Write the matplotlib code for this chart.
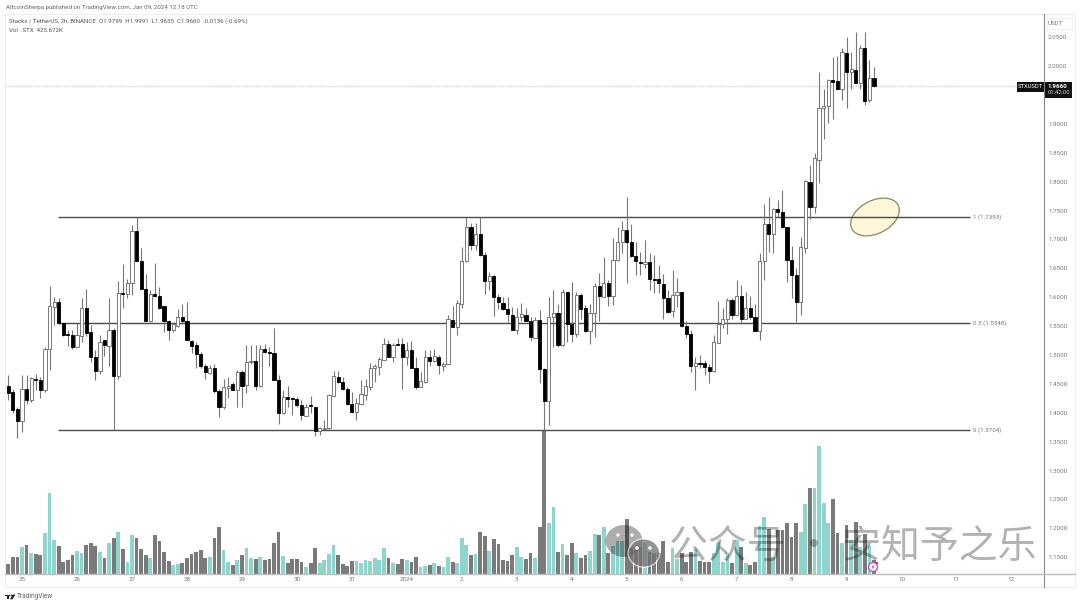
import matplotlib
matplotlib.use("Agg")
import matplotlib.pyplot as plt
from matplotlib.patches import Ellipse, Rectangle, Circle, Polygon

plt.rcParams['font.family'] = ['Roboto', 'DejaVu Sans']

# 2h candles, STX/USDT
opens = [
    1.447,1.436,1.406,1.386,1.442,1.423,1.459,1.456,1.440,1.510,
    1.583,1.591,1.555,1.537,1.535,1.514,1.533,1.582,1.539,1.496,
    1.472,1.526,1.516,1.543,1.463,1.608,1.606,1.625,1.714,1.663,
    1.614,1.558,1.605,1.602,1.584,1.559,1.544,1.550,1.566,1.559,
    1.524,1.517,1.502,1.481,1.469,1.477,1.437,1.410,1.443,1.449,
    1.439,1.471,1.448,1.488,1.489,1.446,1.510,1.505,1.504,1.456,
    1.399,1.428,1.425,1.424,1.413,1.395,1.414,1.410,1.369,1.372,
    1.373,1.429,1.462,1.454,1.442,1.415,1.402,1.415,1.430,1.445,
    1.477,1.480,1.492,1.519,1.497,1.519,1.519,1.496,1.509,1.478,
    1.445,1.454,1.496,1.490,1.497,1.481,1.485,1.560,1.548,1.589,
    1.662,1.722,1.690,1.709,1.673,1.628,1.636,1.601,1.590,1.580,
    1.570,1.543,1.566,1.569,1.559,1.530,1.560,1.476,1.420,1.565,
    1.572,1.517,1.609,1.553,1.536,1.604,1.581,1.541,1.572,1.619,
    1.601,1.625,1.602,1.664,1.695,1.717,1.696,1.672,1.661,1.658,
    1.661,1.632,1.631,1.623,1.599,1.577,1.603,1.609,1.550,1.537,
    1.481,1.487,1.487,1.480,1.472,1.521,1.553,1.562,1.596,1.569,
    1.602,1.562,1.582,1.565,1.542,1.663,1.726,1.710,1.753,1.748,
    1.721,1.665,1.639,1.592,1.686,1.800,1.756,1.838,1.928,1.930,
    1.976,1.974,1.961,2.022,1.989,1.993,1.970,2.031,1.941,1.979,
]
closes = [
    1.435,1.404,1.386,1.442,1.422,1.460,1.456,1.440,1.511,1.585,
    1.591,1.555,1.535,1.535,1.514,1.534,1.582,1.538,1.496,1.472,
    1.523,1.518,1.543,1.463,1.608,1.606,1.625,1.715,1.662,1.614,
    1.558,1.606,1.602,1.582,1.559,1.543,1.553,1.566,1.559,1.526,
    1.516,1.501,1.481,1.470,1.478,1.437,1.410,1.444,1.447,1.439,
    1.471,1.447,1.488,1.489,1.446,1.511,1.505,1.504,1.456,1.399,
    1.428,1.424,1.424,1.413,1.396,1.410,1.411,1.369,1.373,1.373,
    1.430,1.463,1.454,1.441,1.415,1.402,1.417,1.432,1.446,1.478,
    1.481,1.493,1.519,1.497,1.518,1.518,1.496,1.508,1.478,1.445,
    1.455,1.497,1.490,1.498,1.482,1.485,1.562,1.548,1.590,1.662,
    1.722,1.690,1.710,1.673,1.628,1.636,1.600,1.591,1.580,1.571,
    1.544,1.566,1.571,1.559,1.532,1.560,1.476,1.420,1.565,1.573,
    1.517,1.609,1.553,1.536,1.603,1.580,1.541,1.573,1.620,1.602,
    1.625,1.602,1.664,1.695,1.716,1.696,1.672,1.662,1.660,1.661,
    1.631,1.630,1.624,1.599,1.575,1.603,1.609,1.550,1.536,1.481,
    1.487,1.485,1.479,1.472,1.523,1.553,1.563,1.595,1.569,1.602,
    1.563,1.582,1.565,1.542,1.663,1.726,1.710,1.753,1.748,1.721,
    1.664,1.639,1.592,1.687,1.801,1.756,1.840,1.928,1.931,1.976,
    1.972,1.960,2.024,1.990,1.994,1.971,2.031,1.940,1.979,1.966,
]
highs = [
    1.465,1.442,1.410,1.465,1.465,1.462,1.468,1.462,1.514,1.619,
    1.601,1.598,1.555,1.543,1.543,1.555,1.598,1.615,1.552,1.508,
    1.534,1.526,1.598,1.546,1.628,1.657,1.632,1.725,1.738,1.685,
    1.641,1.612,1.660,1.617,1.584,1.560,1.556,1.580,1.588,1.592,
    1.526,1.523,1.505,1.485,1.482,1.485,1.442,1.459,1.462,1.454,
    1.474,1.474,1.517,1.517,1.517,1.517,1.519,1.514,1.547,1.465,
    1.439,1.447,1.428,1.428,1.422,1.416,1.429,1.410,1.376,1.387,
    1.433,1.472,1.473,1.462,1.445,1.436,1.425,1.456,1.459,1.487,
    1.485,1.497,1.529,1.526,1.520,1.530,1.530,1.523,1.525,1.497,
    1.471,1.509,1.509,1.511,1.500,1.488,1.569,1.585,1.596,1.687,
    1.739,1.729,1.728,1.739,1.679,1.644,1.638,1.606,1.601,1.601,
    1.583,1.581,1.590,1.581,1.566,1.566,1.578,1.477,1.601,1.612,
    1.589,1.615,1.609,1.626,1.609,1.607,1.586,1.589,1.624,1.642,
    1.670,1.630,1.702,1.722,1.732,1.773,1.727,1.695,1.679,1.699,
    1.676,1.673,1.656,1.641,1.612,1.647,1.633,1.609,1.558,1.543,
    1.497,1.500,1.491,1.485,1.534,1.593,1.582,1.598,1.598,1.629,
    1.621,1.609,1.602,1.588,1.676,1.762,1.773,1.754,1.768,1.785,
    1.721,1.688,1.650,1.705,1.803,1.829,1.849,1.990,1.961,1.977,
    2.016,2.017,2.031,2.050,2.025,2.059,2.036,2.059,2.011,1.999,
]
lows = [
    1.422,1.399,1.357,1.367,1.416,1.419,1.439,1.425,1.436,1.474,
    1.552,1.553,1.533,1.516,1.511,1.513,1.523,1.533,1.488,1.456,
    1.467,1.498,1.481,1.370,1.459,1.582,1.598,1.604,1.662,1.614,
    1.558,1.557,1.601,1.580,1.540,1.526,1.540,1.548,1.553,1.526,
    1.503,1.477,1.477,1.459,1.468,1.435,1.392,1.407,1.425,1.439,
    1.410,1.410,1.434,1.485,1.440,1.445,1.504,1.481,1.456,1.380,
    1.398,1.410,1.396,1.410,1.387,1.395,1.400,1.360,1.361,1.370,
    1.372,1.428,1.452,1.440,1.413,1.399,1.387,1.413,1.422,1.439,
    1.454,1.465,1.491,1.496,1.488,1.517,1.442,1.482,1.477,1.442,
    1.444,1.451,1.481,1.488,1.468,1.473,1.484,1.548,1.534,1.582,
    1.661,1.681,1.681,1.671,1.606,1.612,1.568,1.580,1.578,1.557,
    1.543,1.536,1.559,1.558,1.525,1.529,1.452,1.370,1.379,1.514,
    1.513,1.515,1.523,1.523,1.532,1.563,1.540,1.519,1.532,1.558,
    1.600,1.585,1.586,1.663,1.676,1.624,1.670,1.638,1.638,1.650,
    1.612,1.607,1.607,1.562,1.572,1.565,1.583,1.549,1.529,1.471,
    1.440,1.477,1.465,1.452,1.470,1.520,1.546,1.536,1.562,1.567,
    1.553,1.562,1.563,1.541,1.526,1.630,1.679,1.676,1.739,1.719,
    1.627,1.598,1.557,1.569,1.677,1.735,1.745,1.797,1.873,1.901,
    1.909,1.958,1.941,1.927,1.961,1.970,1.961,1.933,1.937,1.964,
]
# volume in thousands of STX
volumes = [
    300,500,500,810,870,640,610,560,1220,2420,
    1010,840,370,420,580,680,640,870,920,830,
    670,490,920,1070,1260,750,370,1160,1070,750,
    580,480,1180,980,660,380,270,310,320,470,
    590,650,720,470,500,1070,1410,720,350,260,
    430,580,770,470,440,500,430,460,940,1260,
    530,320,460,460,350,220,330,780,330,410,
    600,860,570,290,250,380,390,320,410,390,
    470,430,770,490,330,290,450,410,360,500,
    220,250,280,330,240,210,520,360,320,1090,
    870,570,610,1260,1150,680,1060,900,430,380,
    580,810,510,440,640,480,1420,4320,1530,2020,
    650,900,570,920,640,490,580,700,1210,1180,
    1410,640,850,1000,1000,1640,770,720,820,940,
    670,640,620,990,350,790,450,620,370,670,
    740,400,370,360,640,970,370,620,320,1020,
    820,320,270,360,1440,1700,1340,520,1320,1320,
    1540,1120,1520,1270,2100,2580,2580,3850,2140,1540,
    2260,1220,920,1470,1020,1550,820,1190,840,425.672,
]

day_labels = ['25','26','27','28','29','30','31','2024','2','3','4','5','6','7','8','9','10','11','12']
price_ticks = [1.15,1.20,1.25,1.30,1.35,1.40,1.45,1.50,1.55,1.60,1.65,1.70,1.75,1.80,1.85,1.90,2.00,2.05]
fib_levels = [1.7393, 1.5548, 1.3704]
fib_labels = ['1 (1.7393)', '0.5 (1.5548)', '0 (1.3704)']
last_price = 1.9660

GREY = '#7a7a7a'
TEAL = '#8ed5cd'
TXT = '#777777'

fig = plt.figure(figsize=(10.8, 6.06), dpi=100, facecolor='white')
W, H = 1080.0, 606.0
pos = [5/W, 1-574/H, (1044-5)/W, (574-14)/H]

# volume panel underneath the candles, same box
vol_ax = fig.add_axes(pos, zorder=1)
ax = fig.add_axes(pos, zorder=2)
ax.patch.set_visible(False)
# pixel overlay for the TradingView furniture and the watermark
ov = fig.add_axes([0, 0, 1, 1], zorder=3)
ov.set_xlim(0, W)
ov.set_ylim(H, 0)
ov.axis('off')

xs = list(range(len(opens)))
xlim = (-0.72, 226.1)

is_up = [c >= o for o, c in zip(opens, closes)]
vol_ax.bar(xs, volumes, width=0.82, linewidth=0, color=[TEAL if u else GREY for u in is_up])
vol_ax.set_xlim(xlim)
vol_ax.set_ylim(0, 16800)
vol_ax.axis('off')

ax.vlines(xs, lows, highs, color='#777777', linewidth=0.8, zorder=3)
bottoms = [min(o, c) for o, c in zip(opens, closes)]
heights = [abs(o - c) for o, c in zip(opens, closes)]
ax.bar(xs, heights, bottom=bottoms, width=0.7, zorder=4, linewidth=0.6,
       color=['white' if u else 'black' for u in is_up],
       edgecolor=['#666666' if u else 'black' for u in is_up])

ax.set_xlim(xlim)
ax.set_ylim(1.1211, 2.0900)

# range lines drawn with the fib tool
for level, label in zip(fib_levels, fib_labels):
    ax.hlines(level, 10.85, 210, color='#4a4a4a', linewidth=1.0, zorder=2)
    ax.text(210.6, level, label, fontsize=4.4, color=TXT, va='center', ha='left')

ax.axhline(last_price, color='#cfcfcf', linewidth=1.0, linestyle=(0, (1, 1)), zorder=1)

# the yellow circle, tilted
ax.add_patch(Ellipse((875, 217), 52, 33, angle=-27, facecolor='#fdf6d8', edgecolor='#8c8763',
                     linewidth=0.9, transform=ov.transData, zorder=1))

ax.set_xticks(list(range(3, 3 + 12 * len(day_labels), 12)))
ax.set_xticklabels(day_labels)
ax.set_yticks(price_ticks)
ax.set_yticklabels([f'{p:.4f}' for p in price_ticks])
ax.yaxis.tick_right()
ax.tick_params(axis='x', length=0, labelsize=4.5, labelcolor=TXT, pad=2.5)
ax.tick_params(axis='y', length=0, labelsize=4.5, labelcolor=TXT, pad=3)
for side in ax.spines:
    ax.spines[side].set_visible(False)

# chart frame
ov.add_patch(Rectangle((5, 14), 1070, 573, facecolor='none', edgecolor='#eeeeee', linewidth=0.8))
ov.plot([1044, 1044], [14, 587], color='#8a8a8a', linewidth=0.8)
ov.plot([5, 1075], [574, 574], color='#bdbdbd', linewidth=1.0)

# header
ov.text(6, 7.5, 'AltcoinSherpa published on TradingView.com, Jan 09, 2024 12:18 UTC',
        fontsize=4.4, color='#666666', va='center', ha='left')
ov.text(9, 21, 'Stacks / TetherUS, 2h, BINANCE  O1.9799  H1.9991  L1.9635  C1.9660  -0.0136 (-0.69%)',
        fontsize=4.4, color='#555555', va='center', ha='left')
ov.text(9, 30, 'Vol · STX  425.672K', fontsize=4.4, color='#555555', va='center', ha='left')

# price labels on the scale
ov.add_patch(Rectangle((1047, 18), 25, 11, facecolor='white', edgecolor='#eeeeee', linewidth=0.6))
ov.text(1055, 23.5, 'USDT', fontsize=4.4, color=TXT, va='center', ha='center')
ov.add_patch(Rectangle((1017, 82), 26.5, 9.5, facecolor='#111111', edgecolor='none'))
ov.text(1030, 86.8, 'STXUSDT', fontsize=4.2, color='white', va='center', ha='center')
ov.add_patch(Rectangle((1045, 82), 27, 15.5, facecolor='#111111', edgecolor='none'))
ov.text(1048, 86.5, '1.9660', fontsize=4.5, color='white', fontweight='bold', va='center', ha='left')
ov.text(1048, 93, '01:42:00', fontsize=4.2, color='#cccccc', va='center', ha='left')

# TradingView mark, bottom left
ov.add_patch(Rectangle((5, 594.5), 5, 1.8, facecolor='#222222', edgecolor='none'))
ov.add_patch(Rectangle((7, 594.5), 2, 4.8, facecolor='#222222', edgecolor='none'))
ov.add_patch(Circle((11.5, 595.5), 1, facecolor='#222222', edgecolor='none'))
ov.add_patch(Polygon([(10, 599.3), (13, 594.5), (15.5, 594.5), (12.5, 599.3)], facecolor='#222222', edgecolor='none'))
ov.text(17, 597, 'TradingView', fontsize=4.7, color='#666666', va='center', ha='left')

# snapshot badge at the last bar
ov.add_patch(Circle((873, 567), 4.5, facecolor='white', edgecolor='#c24fc0', linewidth=1.0))
ov.add_patch(Polygon([(874, 564), (871.5, 567.5), (873, 567.5), (872, 570), (874.5, 566.5), (873, 566.5)],
                     facecolor='#9a3fc0', edgecolor='none'))
ov.add_patch(Circle((877, 563), 1.2, facecolor='#e0304a', edgecolor='none'))

# watermark, black at low alpha so it darkens the bars under it
ov.add_patch(Ellipse((624, 541), 37, 32, facecolor='black', edgecolor='none', alpha=0.32))
ov.add_patch(Ellipse((644, 553), 33, 30, facecolor='white', edgecolor='none', alpha=0.6))
ov.add_patch(Ellipse((644, 553), 30, 27, facecolor='black', edgecolor='none', alpha=0.42))
for ex, ey in [(618, 535), (632, 535), (637, 548), (650, 548)]:
    ov.add_patch(Circle((ex, ey), 1.8, facecolor='white', edgecolor='none', alpha=0.9))
ov.text(852.5, 547, '公众号 · 安知予之乐', fontsize=28, color='black', alpha=0.3,
        va='center', ha='center', family=['Noto Sans CJK SC', 'DejaVu Sans'])

fig.savefig('out.png', dpi=100)
